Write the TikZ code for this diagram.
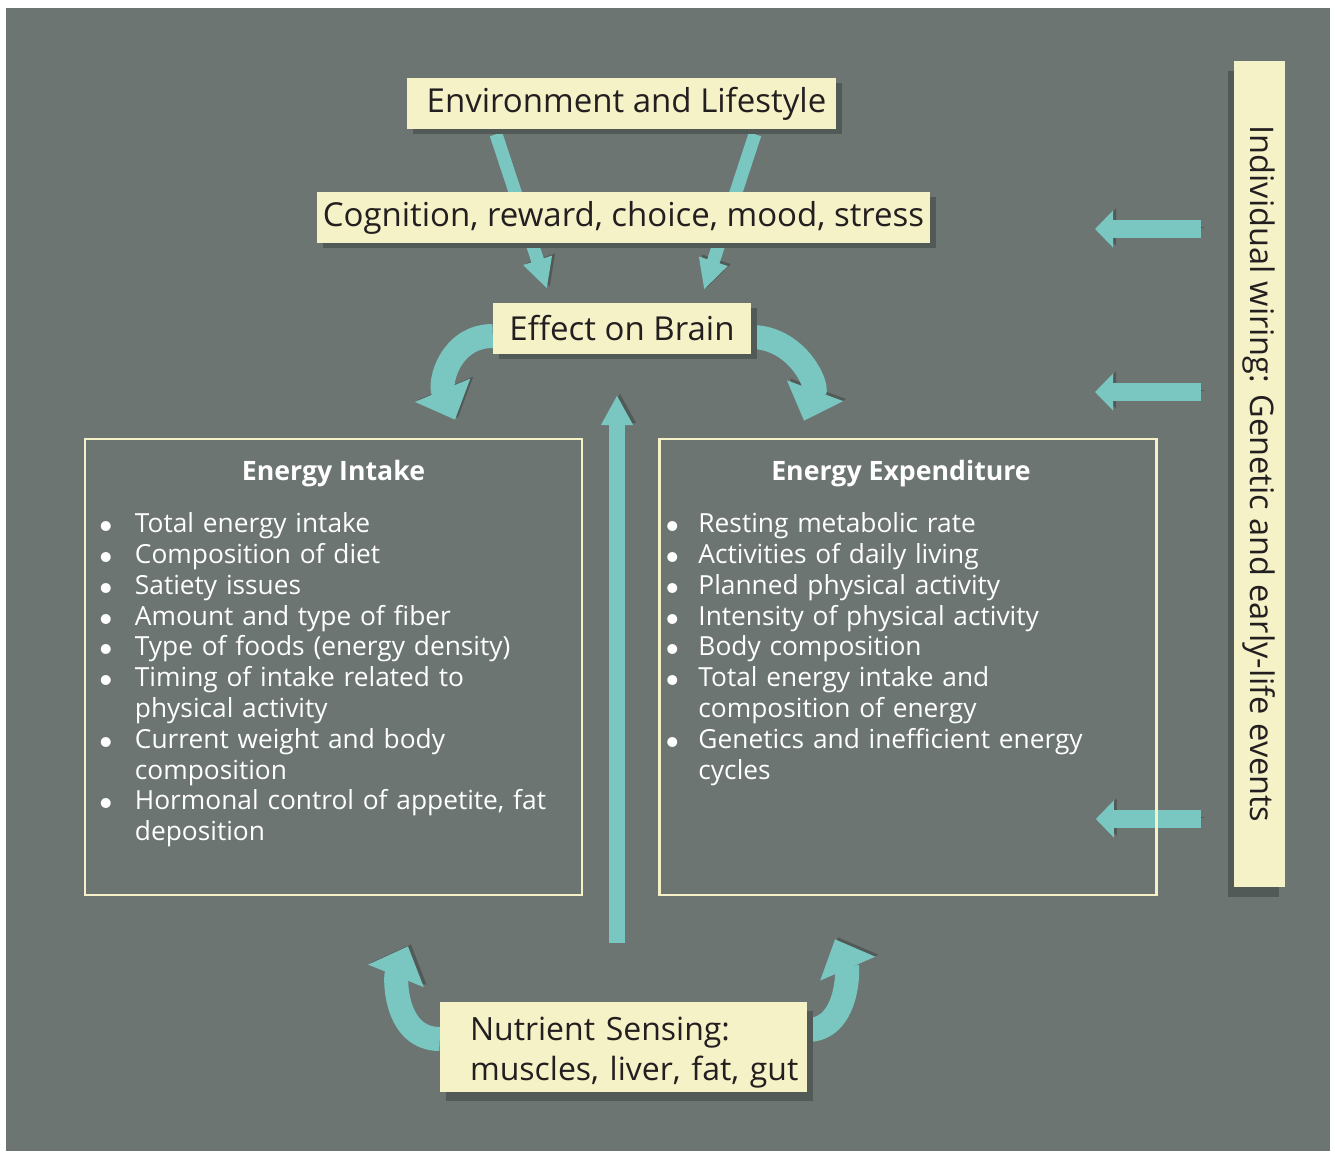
\documentclass[tikz,border=0pt]{standalone}
\usepackage{fontspec}
\setmainfont{Open Sans}
\usetikzlibrary{arrows.meta,positioning,shadows}

\definecolor{bggrey}{HTML}{6C7572}
\definecolor{paper}{HTML}{F5F2C8}
\definecolor{aquaflow}{HTML}{7AC6C0}
\definecolor{shadowgrey}{HTML}{525A58}
\definecolor{inktext}{HTML}{231F20}

\pgfdeclarelayer{backdrop}
\pgfdeclarelayer{flow}
\pgfsetlayers{backdrop,flow,main}

\newlength{\bulletgap}
\setlength{\bulletgap}{34pt}
\newcommand{\dotmark}{\begin{picture}(10,0)\put(5,6){\circle*{9.5}}\end{picture}}
\newcommand{\dotitem}[1]{\hangindent=\bulletgap\hangafter=1\noindent\makebox[\bulletgap][l]{\dotmark}#1\par}

\begin{document}
\begin{tikzpicture}[x=1pt, y=-1pt,
  tag/.style={fill=paper, text=inktext, inner sep=0pt, minimum height=51pt,
    font=\fontsize{33}{40}\selectfont},
  lift/.style 2 args={drop shadow={shadow xshift=#1, shadow yshift=#2, fill=shadowgrey, opacity=1}},
  panel/.style={draw=paper, line width=2.5pt, minimum width=497pt, minimum height=456pt},
  paneltitle/.style={anchor=base, text=white, inner sep=0pt, font=\bfseries\fontsize{26.7}{30}\selectfont},
  bullets/.style={anchor=base west, text=white, inner sep=0pt, align=left, font=\fontsize{26.3}{30.8}\selectfont},
  flowline/.style={aquaflow, preaction={draw=shadowgrey, transform canvas={shift={(3pt,2pt)}}}},
  straight/.style={flowline, line width=13pt, -{Triangle[width=28pt,length=30pt]}},
  upright/.style={flowline, line width=16pt, -{Triangle[width=30pt,length=30pt]}},
  bent/.style={flowline, line width=24pt, -{Triangle[width=58pt,length=32pt]}},
  side/.style={flowline, line width=18pt, -{Triangle[width=36pt,length=18pt]}}]

\useasboundingbox (0,0) rectangle (1335,1151);
\begin{pgfonlayer}{backdrop}
  \fill[white] (0,0) rectangle (1335,1151);
  \fill[bggrey] (6,8) rectangle (1330,1151);
\end{pgfonlayer}

% labels in cream boxes
\node[tag, lift={6pt}{-5pt}, minimum width=429pt] (env) at (621.5,103.5) {\hspace*{10pt}Environment and Lifestyle};
\node[tag, lift={6pt}{-5pt}, minimum width=613pt] (mind) at (623.5,217.5) {Cognition, reward, choice, mood, stress};
\node[tag, lift={6pt}{-5pt}, minimum width=258pt] (brain) at (622,328.5) {Effect on Brain};
\node[tag, lift={6pt}{-9pt}, minimum height=90pt, text width=307pt, inner xsep=30pt, align=left,
  text height=34pt, font=\fontsize{32}{40}\selectfont]
  (nutri) at (623.5,1047) {Nutrient Sensing:\\\mbox{muscles, liver, fat, gut}};
\node[tag, lift={-6pt}{-10pt}, rotate=-90, minimum width=826pt, font=\fontsize{32.5}{40}\selectfont]
  (wiring) at (1259.5,474) {Individual wiring: Genetic and early-life events};

% the two panels
\node[panel] (intake) at (333.5,667) {};
\node[panel] (expend) at (908,667) {};
\node[paneltitle] (intaketitle) at ([yshift=-43pt]intake.north) {Energy Intake};
\node[paneltitle] (expendtitle) at ([xshift=-7pt,yshift=-43pt]expend.north) {Energy Expenditure};
\node[bullets, text width=470pt] (intakelist) at ([xshift=17pt,yshift=-95pt]intake.north west) {%
  \dotitem{Total energy intake}
  \dotitem{Composition of diet}
  \dotitem{Satiety issues}
  \dotitem{Amount and type of fiber}
  \dotitem{Type of foods (energy density)}
  \dotitem{Timing of intake related to\newline physical activity}
  \dotitem{Current weight and body\newline composition}
  \dotitem{Hormonal control of appetite, fat\newline deposition}};
\node[bullets, text width=480pt] (expendlist) at ([xshift=9pt,yshift=-95pt]expend.north west) {%
  \setlength{\bulletgap}{31pt}%
  \dotitem{Resting metabolic rate}
  \dotitem{Activities of daily living}
  \dotitem{Planned physical activity}
  \dotitem{Intensity of physical activity}
  \dotitem{Body composition}
  \dotitem{Total energy intake and\newline composition of energy}
  \dotitem{Genetics and inefficient energy\newline cycles}};

% arrows
\begin{pgfonlayer}{flow}
  \draw[straight] ([xshift=-125.5pt,yshift=-5pt]env.south) -- ([xshift=-75pt,yshift=14pt]brain.north);
  \draw[straight] ([xshift=133.5pt,yshift=-5pt]env.south) -- ([xshift=82pt,yshift=13pt]brain.north);
  \draw[bent] ([yshift=-7.5pt]brain.west) .. controls +(-42,0) and +(-16,-38) .. ([xshift=121.5pt,yshift=18pt]intake.north);
  \draw[bent] ([yshift=-8.5pt]brain.east) .. controls +(44,0) and +(14,-38) .. ([xshift=-104pt,yshift=17pt]expend.north);
  \draw[upright] ([xshift=-6.5pt,yshift=59pt]nutri.north) -- ([xshift=-5pt,yshift=-41pt]brain.south);
  \draw[bent] ([yshift=8pt]nutri.west) .. controls +(-45,0) and +(-13,32) .. ([xshift=74.5pt,yshift=-50pt]intake.south);
  \draw[bent] ([yshift=17pt]nutri.east) .. controls +(41,0) and +(13,30) .. ([xshift=-73pt,yshift=-43pt]expend.south);
  \draw[side] ([xshift=-58.5pt,yshift=245pt]wiring.center) -- ([xshift=-164.5pt,yshift=245pt]wiring.center);
  \draw[side] ([xshift=-58.5pt,yshift=82pt]wiring.center) -- ([xshift=-164.5pt,yshift=82pt]wiring.center);
  \draw[side] ([xshift=-58.5pt,yshift=-345pt]wiring.center) -- ([xshift=-62pt,yshift=-152pt]expend.east);
\end{pgfonlayer}

\end{tikzpicture}
\end{document}
